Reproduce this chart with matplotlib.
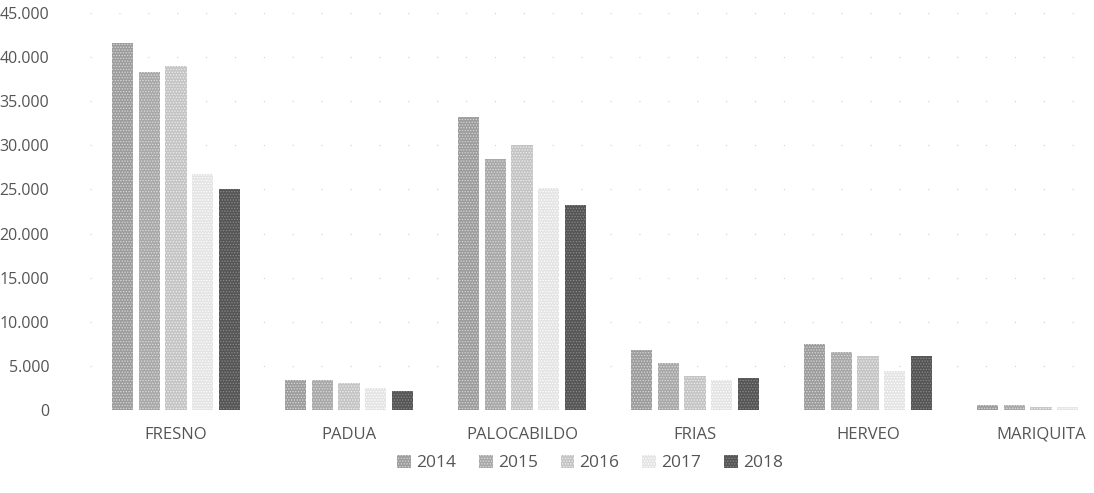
import numpy as np
import matplotlib.pyplot as plt
from matplotlib.ticker import FuncFormatter

# =========================
# DATA
# =========================
municipios = ["FRESNO", "PADUA", "PALOCABILDO", "FRIAS", "HERVEO", "MARIQUITA"]
years = ["2014", "2015", "2016", "2017", "2018"]
v2014 = [41600, 3400, 33200, 6800, 7500, 600]
v2015 = [38300, 3400, 28400, 5300, 6600, 600]
v2016 = [39000, 3100, 30000, 3800, 6100, 300]
v2017 = [26700, 2500, 25200, 3400, 4400, 300]
v2018 = [25000, 2200, 23200, 3600, 6100, 0]
series = [v2014, v2015, v2016, v2017, v2018]

colors = ["#9c9c9c", "#a8a8a8", "#c4c4c4", "#e4e4e4", "#555555"]
hatch_cols = ["#d8d8d8", "#dcdcdc", "#eeeeee", "#ffffff", "#8a8a8a"]

plt.rcParams["hatch.linewidth"] = 0.6

fig = plt.figure(figsize=(10.94, 4.93), dpi=100)
ax = fig.add_axes([89.5 / 1094, 83 / 493, 6 * 173 / 1094, 397 / 493])

x = np.arange(len(municipios))
pitch = 0.155
width = 0.122
for i, (vals, yr) in enumerate(zip(series, years)):
    ax.bar(x + (i - 2) * pitch, vals, width, color=colors[i], label=yr,
           hatch="......", edgecolor=hatch_cols[i], linewidth=0, zorder=2)

ax.set_xlim(-0.5, len(municipios) - 0.5)
ax.set_ylim(0, 45000)
ax.set_yticks(np.arange(0, 45001, 5000))
ax.yaxis.set_major_formatter(FuncFormatter(lambda v, p: f"{int(v):,}".replace(",", ".")))
ax.set_xticks(x)
ax.set_xticklabels(municipios)

ax.grid(axis="y", color="#cccccc", linestyle=(0, (1, 25)), linewidth=0.8, zorder=0)
for s in ax.spines.values():
    s.set_visible(False)
ax.tick_params(axis="both", length=0, colors="#555555")
ax.tick_params(axis="y", pad=29, labelsize=11.5)
ax.tick_params(axis="x", pad=12, labelsize=12)
for lab in ax.get_xticklabels() + ax.get_yticklabels():
    lab.set_family("Open Sans")

leg = fig.legend(loc="center", bbox_to_anchor=(590 / 1094, 1 - 463 / 493), ncol=5,
                 frameon=False, handlelength=0.8, handleheight=0.8, handletextpad=0.3,
                 columnspacing=1.3, prop={"family": "Open Sans", "size": 12.5})
for t in leg.get_texts():
    t.set_color("#555555")

fig.savefig("out.png", dpi=100)
